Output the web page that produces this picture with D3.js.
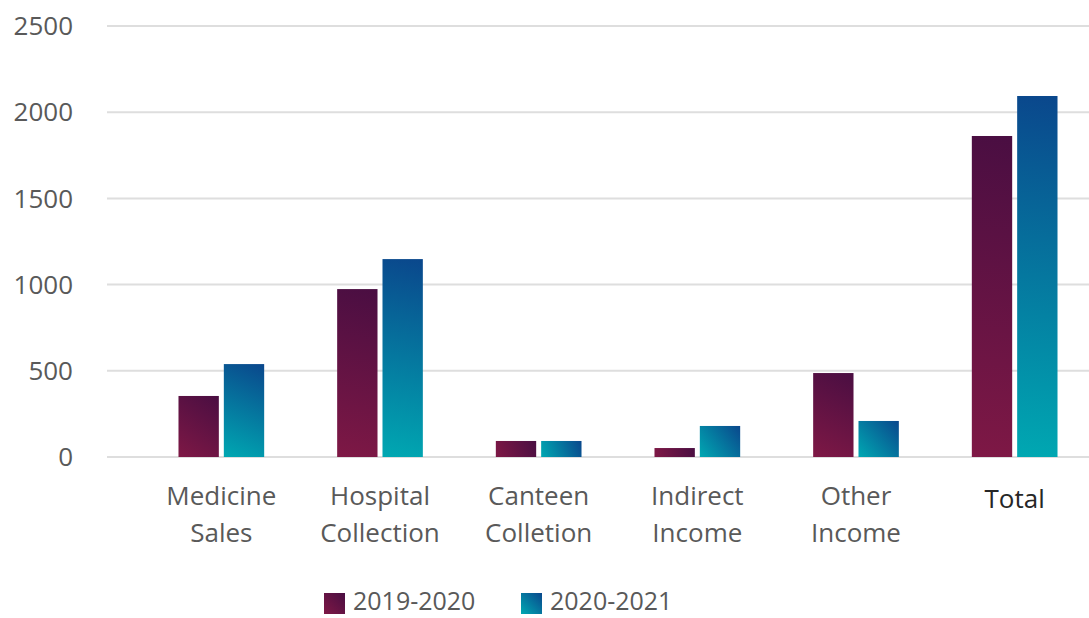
<!DOCTYPE html>
<html>
<head>
<meta charset="utf-8">
<script src="https://cdn.jsdelivr.net/npm/d3@7"></script>
<style>
  html, body { margin: 0; padding: 0; background: #ffffff; }
  svg { display: block; }
  text { font-family: "Open Sans", "Noto Sans", sans-serif; }
</style>
</head>
<body>
<svg id="chart" width="1089" height="618"></svg>
<script>
// ---- data ----
const categories = [["Medicine", "Sales"], ["Hospital", "Collection"], ["Canteen", "Colletion"], ["Indirect", "Income"], ["Other", "Income"], ["Total"]];
const seriesNames = ["2019-2020", "2020-2021"];
const values2019 = [354, 974, 93, 52, 487, 1862];
const values2020 = [539, 1148, 93, 180, 209, 2094];
const yTicks = [0, 500, 1000, 1500, 2000, 2500];

// ---- layout ----
const W = 1089, H = 618;
const svg = d3.select("#chart");
const defs = svg.append("defs");

const colors = {
  "2019-2020": { dark: "#4a0e42", light: "#7e1845" },
  "2020-2021": { dark: "#0a478c", light: "#00a8b2" }
};

const y = d3.scaleLinear().domain([0, 2500]).range([457, 26]);
const x0 = d3.scaleBand().domain(d3.range(categories.length)).range([142, 1094]).padding(0);
const groupW = x0.bandwidth() * 0.54;
const x1 = d3.scaleBand().domain(seriesNames).range([0, groupW]).paddingInner(0.11).paddingOuter(0);

// gridlines
svg.append("g").selectAll("line").data(yTicks).join("line")
  .attr("x1", 107).attr("x2", W)
  .attr("y1", d => y(d)).attr("y2", d => y(d))
  .attr("stroke", "#dedede").attr("stroke-width", 2);

// y axis labels
svg.append("g").selectAll("text").data(yTicks).join("text")
  .attr("x", 73).attr("y", d => y(d)).attr("dy", "0.35em")
  .attr("text-anchor", "end")
  .attr("font-size", 26).attr("fill", "#595959")
  .text(d => d);

// bars
const rows = [];
categories.forEach((c, i) => {
  rows.push({ i, s: seriesNames[0], v: values2019[i] });
  rows.push({ i, s: seriesNames[1], v: values2020[i] });
});

rows.forEach((d, k) => {
  const bx = x0(d.i) + (x0.bandwidth() - groupW) / 2 + x1(d.s);
  const bw = x1.bandwidth();
  const by = y(d.v);
  const bh = y(0) - y(d.v);
  const id = "g" + k;
  const g = defs.append("linearGradient").attr("id", id)
    .attr("gradientUnits", "userSpaceOnUse")
    .attr("x1", bx).attr("y1", by + bh).attr("x2", bx + bw).attr("y2", by);
  g.append("stop").attr("offset", 0).attr("stop-color", colors[d.s].light);
  g.append("stop").attr("offset", 1).attr("stop-color", colors[d.s].dark);
  svg.append("rect").attr("x", bx).attr("y", by).attr("width", bw).attr("height", bh)
    .attr("fill", `url(#${id})`);
});

// x labels
const xl = svg.append("g").selectAll("text").data(categories).join("text")
  .attr("text-anchor", "middle")
  .attr("font-size", 26)
  .attr("fill", d => d.length === 1 ? "#262626" : "#595959");
xl.each(function (d, i) {
  const t = d3.select(this);
  const cx = x0(i) + x0.bandwidth() / 2;
  if (d.length === 1) {
    t.append("tspan").attr("x", cx).attr("y", 508).text(d[0]);
  } else {
    d.forEach((line, j) => t.append("tspan").attr("x", cx).attr("y", 505 + j * 37).text(line));
  }
});

// legend
const legendX = [324, 521];
seriesNames.forEach((s, k) => {
  const lid = "lg" + k;
  const lx = legendX[k], ly = 593, sz = 21;
  const g = defs.append("linearGradient").attr("id", lid)
    .attr("gradientUnits", "userSpaceOnUse")
    .attr("x1", lx).attr("y1", ly + sz).attr("x2", lx + sz).attr("y2", ly);
  g.append("stop").attr("offset", 0).attr("stop-color", colors[s].light);
  g.append("stop").attr("offset", 1).attr("stop-color", colors[s].dark);
  svg.append("rect").attr("x", lx).attr("y", ly).attr("width", sz).attr("height", sz)
    .attr("fill", `url(#${lid})`);
  svg.append("text").attr("x", lx + 29).attr("y", 601).attr("dy", "0.35em")
    .attr("font-size", 25).attr("fill", "#595959").text(s);
});
</script>
</body>
</html>
